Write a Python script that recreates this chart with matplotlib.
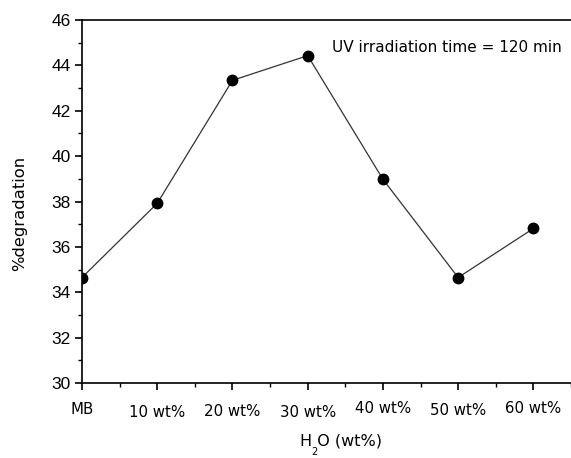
import matplotlib
matplotlib.use("Agg")
import matplotlib.pyplot as plt
from matplotlib.ticker import MultipleLocator
import matplotlib.transforms as mtransforms

categories = ["MB", "10 wt%", "20 wt%", "30 wt%", "40 wt%", "50 wt%", "60 wt%"]
degradation = [34.65, 37.92, 43.34, 44.43, 38.98, 34.65, 36.81]
y_ticks = [30, 32, 34, 36, 38, 40, 42, 44, 46]

fig = plt.figure(figsize=(5.71, 4.58), dpi=100)
ax = fig.add_axes([82/571, (458-383)/458, (571-82)/571, 363/458])

x = list(range(len(categories)))
ax.plot(x, degradation, color="#333333", lw=0.9, marker="o", ms=7.5,
        mfc="black", mec="black", zorder=3, clip_on=True)

ax.set_xlim(0, (571-82)/75.7)
ax.set_ylim(30, 46)
ax.set_yticks(y_ticks)
ax.yaxis.set_minor_locator(MultipleLocator(1))
ax.set_xticks(x)
ax.set_xticks([i + 0.5 for i in x], minor=True)
ax.set_xticklabels(categories, fontfamily="DejaVu Sans", fontsize=10.8)
for lab in ax.get_yticklabels():
    lab.set_fontfamily("Liberation Sans")
    lab.set_fontsize(12.5)

ax.tick_params(axis="both", which="major", direction="out", length=5, width=1.2, color="black")
ax.tick_params(axis="both", which="minor", direction="out", length=3, width=1.0, color="black")
ax.tick_params(axis="x", which="major", pad=10)
ax.tick_params(axis="y", which="major", pad=3)

# small vertical offsets of individual x tick labels as in the reference
offsets = [2, -1, 0, -1, 3, 1, 3]
for lab, off in zip(ax.get_xticklabels(), offsets):
    lab.set_transform(lab.get_transform() + mtransforms.ScaledTranslation(0, off/100, fig.dpi_scale_trans))

ax.spines["right"].set_visible(False)
for s in ["left", "bottom", "top"]:
    ax.spines[s].set_linewidth(1.2)
    ax.spines[s].set_color("black")

fig.text(20/571, 1 - 213/458, "%degradation", rotation=90, ha="center", va="center",
         fontfamily="DejaVu Sans", fontsize=11.8)
fig.text(341/571, 1 - 441/458, "H O (wt%)", ha="center", va="center",
         fontfamily="DejaVu Sans", fontsize=11.5)
fig.text(314/571, 1 - 452/458, "2", ha="center", va="center",
         fontfamily="DejaVu Sans", fontsize=7)
fig.text(332/571, 1 - 48/458, "UV irradiation time = 120 min", ha="left", va="center",
         fontfamily="DejaVu Sans", fontsize=11)

fig.savefig("out.png", dpi=100)
